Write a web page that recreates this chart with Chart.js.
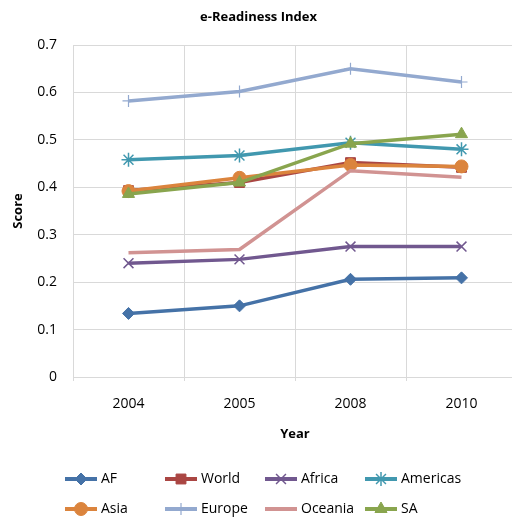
<!DOCTYPE html>
<html>
<head>
<meta charset="utf-8">
<script src="https://cdn.jsdelivr.net/npm/chart.js@4/dist/chart.umd.min.js"></script>
<style>
  html, body { margin: 0; padding: 0; background: #fff; overflow: hidden; }
  #ereadiness { display: block; }
</style>
</head>
<body>
<canvas id="ereadiness" width="517" height="517"></canvas>
<script>
// chart data
var years = ['2004', '2005', '2008', '2010'];
var seriesNames = ['AF', 'World', 'Africa', 'Americas', 'Asia', 'Europe', 'Oceania', 'SA'];
var afValues = [0.134, 0.150, 0.206, 0.209];
var worldValues = [0.393, 0.410, 0.452, 0.442];
var africaValues = [0.240, 0.248, 0.275, 0.275];
var americasValues = [0.458, 0.467, 0.494, 0.480];
var asiaValues = [0.392, 0.420, 0.447, 0.444];
var europeValues = [0.582, 0.602, 0.650, 0.622];
var oceaniaValues = [0.262, 0.269, 0.435, 0.421];
var saValues = [0.386, 0.410, 0.492, 0.512];

var FONT = "'Open Sans', 'Liberation Sans', sans-serif";

function makeSet(i, values, color, style, radius, pointBorder) {
  return {
    label: seriesNames[i],
    data: values,
    borderColor: color,
    backgroundColor: color,
    pointBackgroundColor: color,
    pointBorderColor: color,
    borderWidth: 3.5,
    pointStyle: style,
    pointRadius: radius,
    pointBorderWidth: pointBorder,
    pointHoverRadius: radius,
    tension: 0,
    order: 8 - i // later series drawn on top, like excel
  };
}

var datasets = [
  makeSet(0, afValues, '#4572A7', 'rectRot', 6, 1),
  makeSet(1, worldValues, '#AA4643', 'rect', 7, 1),
  makeSet(2, africaValues, '#71588F', 'crossRot', 7, 1.5),
  makeSet(3, americasValues, '#4198AF', 'star', 7, 1.5),
  makeSet(4, asiaValues, '#DB843D', 'circle', 6.5, 1),
  makeSet(5, europeValues, '#93A9CF', 'cross', 6, 1.2),
  makeSet(6, oceaniaValues, '#D19392', false, 0, 0),
  makeSet(7, saValues, '#89A54E', 'triangle', 7, 1)
];

// legend in a 4 column grid like the excel one
var gridLegend = {
  id: 'gridLegend',
  afterDraw: function (chart) {
    var ctx = chart.ctx;
    var sets = chart.data.datasets;
    ctx.save();
    ctx.font = '14px ' + FONT;
    ctx.textBaseline = 'middle';
    ctx.textAlign = 'left';
    for (var i = 0; i < sets.length; i++) {
      var ds = sets[i];
      var x = 65 + (i % 4) * 100;
      var y = i < 4 ? 479 : 509;
      ctx.strokeStyle = ds.borderColor;
      ctx.lineWidth = 4;
      ctx.beginPath();
      ctx.moveTo(x, y);
      ctx.lineTo(x + 32, y);
      ctx.stroke();
      if (ds.pointStyle) {
        ctx.fillStyle = ds.pointBackgroundColor;
        ctx.strokeStyle = ds.pointBorderColor;
        ctx.lineWidth = ds.pointBorderWidth;
        Chart.helpers.drawPoint(ctx, {
          pointStyle: ds.pointStyle,
          radius: ds.pointRadius,
          rotation: 0,
          borderWidth: ds.pointBorderWidth
        }, x + 16, y);
      }
      ctx.fillStyle = '#000';
      ctx.fillText(ds.label, x + 36, y);
    }
    ctx.restore();
  }
};

var chart = new Chart(document.getElementById('ereadiness'), {
  type: 'line',
  data: { labels: years, datasets: datasets },
  plugins: [gridLegend],
  options: {
    responsive: false,
    animation: false,
    devicePixelRatio: 1,
    layout: { autoPadding: false, padding: { top: 0, left: 0, right: 0, bottom: 60 } },
    plugins: {
      legend: { display: false },
      tooltip: { enabled: false },
      title: {
        display: true,
        text: 'e-Readiness Index',
        color: '#000',
        font: { family: FONT, size: 13, weight: 'bold' },
        padding: { top: 9, bottom: 20.4 }
      }
    },
    scales: {
      x: {
        offset: true,
        grid: { color: '#d9d9d9', offset: true, tickLength: 4, drawTicks: true },
        border: { color: '#d9d9d9' },
        ticks: { color: '#000', padding: 15, font: { family: FONT, size: 14 } },
        title: {
          display: true,
          text: 'Year',
          color: '#000',
          font: { family: FONT, size: 13, weight: 'bold' },
          padding: { top: 0, bottom: 15 }
        },
        afterFit: function (scale) { scale.height = 80; }
      },
      y: {
        min: 0,
        max: 0.7,
        ticks: { stepSize: 0.1, color: '#000', padding: 16, font: { family: FONT, size: 14 } },
        grid: { color: '#d9d9d9', drawTicks: false },
        border: { color: '#d9d9d9' },
        title: {
          display: true,
          text: 'Score',
          color: '#000',
          font: { family: FONT, size: 13, weight: 'bold' },
          padding: { top: 10, bottom: 0 }
        },
        afterFit: function (scale) { scale.width = 73; }
      }
    }
  }
});
</script>
</body>
</html>
